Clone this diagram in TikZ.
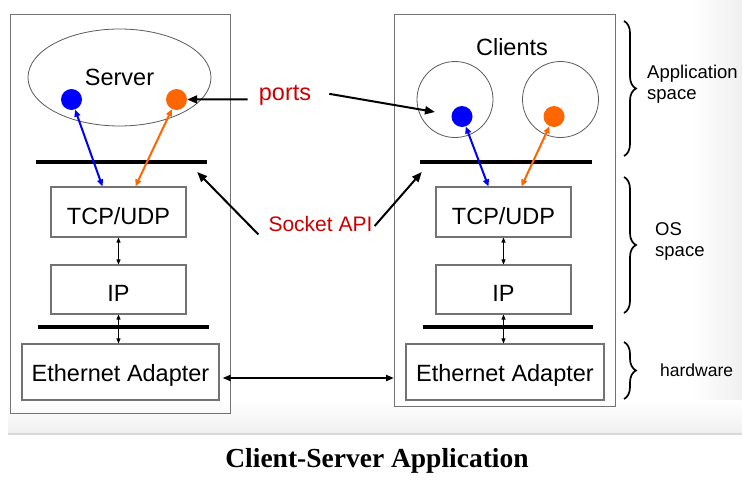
\documentclass[tikz,border=0pt]{standalone}
\usepackage{fontspec}
\setmainfont{Liberation Sans}
\newfontfamily\capfont{Liberation Serif}
\usetikzlibrary{arrows.meta,calc,shapes.geometric,decorations.pathreplacing}

\definecolor{apired}{RGB}{204,0,0}
\definecolor{portblue}{RGB}{0,0,255}
\definecolor{portorange}{RGB}{255,102,0}
\definecolor{framegray}{RGB}{115,115,115}
\definecolor{ringgray}{RGB}{90,90,90}

\begin{document}
\begin{tikzpicture}[x=1pt,y=-1pt,
  big/.style={font=\fontsize{23.5}{26}\selectfont},
  host/.style={draw=framegray,line width=1.2pt,inner sep=0pt,anchor=north west},
  layer/.style={draw=framegray,line width=1.1pt,inner sep=0pt,big,
    text height=24pt,text depth=0pt},
  nic/.style={layer,text height=18pt},
  bar/.style={fill=black,draw=none,inner sep=0pt,minimum height=4pt},
  ring/.style={draw=ringgray,line width=0.8pt,inner sep=0pt},
  port/.style={circle,fill=#1,draw=none,inner sep=0pt,minimum size=21pt},
  callout/.style={text=apired,inner sep=0pt},
  link/.style={line width=2pt,{Triangle[length=7pt,width=6pt]}-{Triangle[length=7pt,width=6pt]}},
  hop/.style={line width=0.7pt,{Triangle[length=5pt,width=4pt]}-{Triangle[length=5pt,width=4pt]}},
  pointer/.style={line width=2pt,-{Triangle[length=10pt,width=8pt]}},
  wire/.style={line width=2pt,{Triangle[length=8pt,width=6pt]}-{Triangle[length=8pt,width=6pt]}},
  brace/.style={decorate,decoration={brace,amplitude=12pt},line width=1.7pt},
  side/.style={font=\fontsize{18.5}{21}\selectfont,inner sep=0pt,align=left}]

\useasboundingbox (0,0) rectangle (742,482);

% slide backdrop
\fill[white] (0,0) rectangle (742,482);
\shade[left color=white,right color=gray!12] (690,0) rectangle (742,433);
\shade[top color=white,bottom color=gray!12] (8,400) rectangle (742,433);
\draw[gray!30,line width=2pt] (8,434) -- (742,434);

% ---------- server host ----------
\node[host,minimum width=220pt,minimum height=399pt] (lhost) at (10,14) {};
\node[ellipse,ring,minimum width=183pt,minimum height=97pt,big] (server) at (119.5,77.5) {Server};
\node[port=portblue] (lbp) at (71.5,99.5) {};
\node[port=portorange] (lop) at (176.5,99.5) {};
\node[bar,minimum width=171pt] (lapi) at (121.5,162) {};
\node[layer,minimum width=135pt,minimum height=50pt] (ltcp) at (118.5,212) {TCP/UDP};
\node[layer,minimum width=135pt,minimum height=49pt] (lip) at (118.5,289.5) {IP};
\node[bar,minimum width=171pt] (ldrv) at (123.5,327) {};
\node[nic,minimum width=197pt,minimum height=56pt] (leth) at (120.5,372) {Ethernet Adapter};

% ---------- client host ----------
\node[host,minimum width=221pt,minimum height=392pt] (rhost) at (394,14) {};
\node[big,inner sep=0pt,anchor=base] (clients) at (512,55) {Clients};
\node[circle,ring,minimum size=76pt] (c1) at (455,99.5) {};
\node[circle,ring,minimum size=76pt] (c2) at (560.5,99.5) {};
\node[port=portblue] (rbp) at (462,116.5) {};
\node[port=portorange] (rop) at (554,116.5) {};
\node[bar,minimum width=172pt] (rapi) at (506,162) {};
\node[layer,minimum width=135pt,minimum height=50pt] (rtcp) at (503.5,212) {TCP/UDP};
\node[layer,minimum width=135pt,minimum height=49pt] (rip) at (503.5,289.5) {IP};
\node[bar,minimum width=170pt] (rdrv) at (508,327) {};
\node[nic,minimum width=198pt,minimum height=56pt] (reth) at (505,372) {Ethernet Adapter};

% ---------- port-to-transport links ----------
\draw[link,portblue] (lbp) -- ($(ltcp.north west)+(52,0)$);
\draw[link,portorange] (lop) -- ($(ltcp.north west)+(85,0)$);
\draw[link,portblue] (rbp) -- ($(rtcp.north west)+(53,0)$);
\draw[link,portorange] (rop) -- ($(rtcp.north west)+(86,0)$);

% ---------- stack hops ----------
\draw[hop] (ltcp.south) -- (lip.north);
\draw[hop] (lip.south) -- (lip.south |- leth.north);
\draw[hop] (rtcp.south) -- (rip.north);
\draw[hop] (rip.south) -- (rip.south |- reth.north);

% ---------- wire between adapters ----------
\coordinate (wireL) at ($(leth.east)+(3,6)$);
\draw[wire] (wireL) -- (wireL -| rhost.west);

% ---------- callouts ----------
\node[callout,big,anchor=base] (ports) at (285,100) {ports};
\node[callout,font=\fontsize{21}{24}\selectfont] (sock) at (320.5,223.5) {Socket API};

\draw[pointer] ($(ports.west)+(-11,4.5)$) -- (lop);
\coordinate (portsTip) at ($(rbp)+(-27,-4.5)$);
\draw[pointer] ($(ports.east)+(18,-1)$) -- (portsTip);

\coordinate (apiL) at ($(lapi.east)+(-10,10)$);
\coordinate (apiR) at ($(rapi.west)+(2,10)$);
\draw[pointer] ($(sock.south west)+(-10,3)$) -- (apiL);
\draw[pointer] ($(sock.east)+(2,2.5)$) -- (apiR);

% ---------- layer braces ----------
\draw[brace] (624,21) -- (624,156);
\draw[brace] (624,177) -- (624,313);
\draw[brace] (624,342) -- (624,399);
\node[side,anchor=west] (appspace) at (647,84) {Application\\space};
\node[side,anchor=west] (osspace) at (655,241) {OS\\space};
\node[side,anchor=west,font=\fontsize{17.5}{20}\selectfont] (hwspace) at (660,370) {hardware};

% ---------- caption ----------
\node[font=\capfont\bfseries\fontsize{27.5}{31}\selectfont,anchor=base,inner sep=0pt] (caption) at (377,467) {Client-Server Application};

\end{tikzpicture}
\end{document}
